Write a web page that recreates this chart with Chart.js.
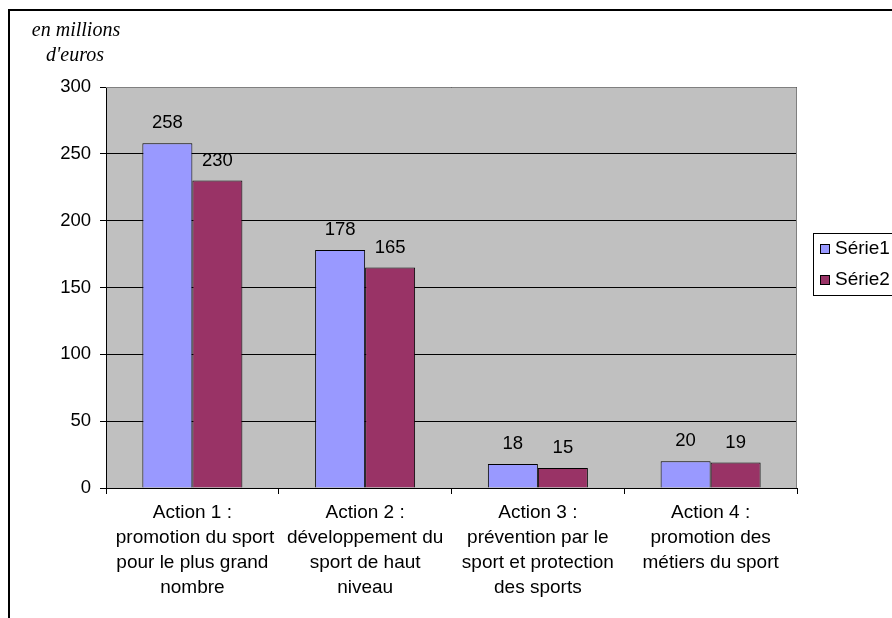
<!DOCTYPE html>
<html>
<head>
<meta charset="utf-8">
<script src="https://cdn.jsdelivr.net/npm/chart.js@4"></script>
<style>
  html, body { margin: 0; padding: 0; background: #fff; }
  #wrap { position: relative; width: 892px; height: 618px; }
  canvas { display: block; }
</style>
</head>
<body>
<div id="wrap"><canvas id="c" width="892" height="618"></canvas></div>
<script>
// Budget par action (en millions d'euros)
const categories = [
  ["Action 1 :", " promotion du sport", "pour le plus grand", "nombre"],
  ["Action 2 :", "développement du", "sport de haut", "niveau"],
  ["Action 3 :", "prévention par le", "sport et protection", "des sports"],
  ["Action 4 :", "promotion des", "métiers du sport"]
];
const serie1 = [258, 178, 18, 20];
const serie2 = [230, 165, 15, 19];
const seriesNames = ["Série1", "Série2"];
const unitLabel = ["en millions", "d'euros"];

const FONT = "'Liberation Sans', Arial, sans-serif";
const COLORS = ["#9999FF", "#993366"];

// Grey plot background, frame, unit caption, value labels and legend
const decorations = {
  id: "decorations",
  beforeDraw(chart) {
    const { ctx, chartArea: a } = chart;
    ctx.save();
    ctx.fillStyle = "#C0C0C0";
    ctx.fillRect(a.left, a.top, a.right - a.left, a.bottom - a.top);
    ctx.restore();
  },
  afterDatasetsDraw(chart) {
    const { ctx, chartArea: a } = chart;
    ctx.save();
    // plot frame (top and right)
    ctx.strokeStyle = "#808080";
    ctx.lineWidth = 1;
    ctx.beginPath();
    ctx.moveTo(a.left, a.top + 0.5);
    ctx.lineTo(a.right - 0.5, a.top + 0.5);
    ctx.lineTo(a.right - 0.5, a.bottom);
    ctx.stroke();

    // value labels above each bar
    ctx.fillStyle = "#000";
    ctx.font = "18.5px " + FONT;
    ctx.textAlign = "center";
    ctx.textBaseline = "middle";
    chart.data.datasets.forEach((ds, i) => {
      chart.getDatasetMeta(i).data.forEach((bar, j) => {
        ctx.fillText(String(ds.data[j]), bar.x, bar.y - 20);
      });
    });

    // outer frame
    ctx.strokeStyle = "#000";
    ctx.lineWidth = 2;
    ctx.beginPath();
    ctx.moveTo(9, 618);
    ctx.lineTo(9, 10);
    ctx.lineTo(892, 10);
    ctx.stroke();

    // unit caption
    ctx.font = "italic 20px 'Liberation Serif', 'Times New Roman', serif";
    ctx.textAlign = "center";
    ctx.fillText(unitLabel[0], 76, 31);
    ctx.fillText(unitLabel[1], 75, 56);

    // legend
    ctx.lineWidth = 1;
    ctx.strokeStyle = "#000";
    ctx.fillStyle = "#fff";
    ctx.fillRect(813.5, 233.5, 90, 62);
    ctx.strokeRect(813.5, 233.5, 90, 62);
    ctx.font = "19px " + FONT;
    ctx.textAlign = "left";
    seriesNames.forEach((name, i) => {
      const y = 249 + i * 31;
      ctx.fillStyle = COLORS[i];
      ctx.fillRect(820.5, y - 4.5, 9, 9);
      ctx.strokeRect(820.5, y - 4.5, 9, 9);
      ctx.fillStyle = "#000";
      ctx.fillText(name, 835, y);
    });
    ctx.restore();
  }
};

new Chart(document.getElementById("c"), {
  type: "bar",
  data: {
    labels: categories,
    datasets: [
      { label: seriesNames[0], data: serie1, backgroundColor: COLORS[0], borderColor: "#000", borderWidth: 1 },
      { label: seriesNames[1], data: serie2, backgroundColor: COLORS[1], borderColor: "#000", borderWidth: 1 }
    ]
  },
  options: {
    responsive: false,
    animation: false,
    maintainAspectRatio: false,
    layout: { padding: { left: 0, top: 87, right: 95, bottom: 0 } },
    datasets: { bar: { categoryPercentage: 0.579, barPercentage: 1.0 } },
    plugins: { legend: { display: false }, tooltip: { enabled: false } },
    scales: {
      x: {
        afterFit(scale) { scale.height = 130; },
        grid: { drawOnChartArea: false, offset: true, color: "#000", tickLength: 6, tickColor: "#000" },
        border: { color: "#000", width: 1 },
        ticks: { color: "#000", font: { family: FONT, size: 19, lineHeight: 25 / 19 }, padding: 6, maxRotation: 0, autoSkip: false }
      },
      y: {
        min: 0, max: 300,
        afterFit(scale) { scale.width = 106; },
        grid: { color: "#000", lineWidth: 1, tickLength: 6, tickColor: "#000" },
        border: { color: "#000", width: 1 },
        ticks: { stepSize: 50, color: "#000", font: { family: FONT, size: 18.5 }, padding: 9 }
      }
    }
  },
  plugins: [decorations]
});
</script>
</body>
</html>
